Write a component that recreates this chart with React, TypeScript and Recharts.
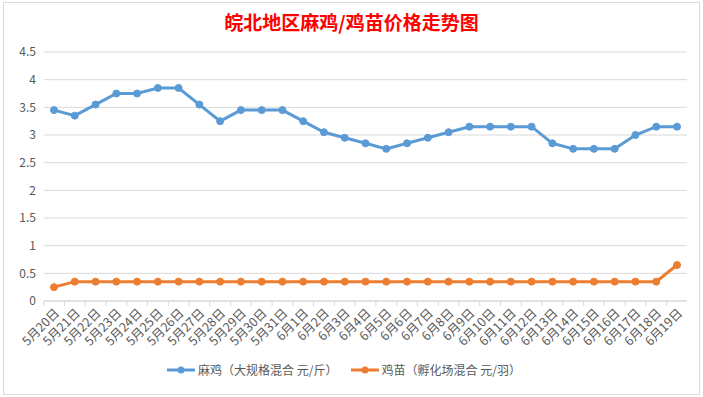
import React from 'react';
import { CartesianGrid, Legend, Line, LineChart, XAxis, YAxis } from 'recharts';

const dates = [
  '5月20日', '5月21日', '5月22日', '5月23日', '5月24日', '5月25日', '5月26日', '5月27日',
  '5月28日', '5月29日', '5月30日', '5月31日', '6月1日', '6月2日', '6月3日', '6月4日',
  '6月5日', '6月6日', '6月7日', '6月8日', '6月9日', '6月10日', '6月11日', '6月12日',
  '6月13日', '6月14日', '6月15日', '6月16日', '6月17日', '6月18日', '6月19日',
];

const majiPrices = [
  3.45, 3.35, 3.55, 3.75, 3.75, 3.85, 3.85, 3.55, 3.25, 3.45, 3.45, 3.45, 3.25, 3.05, 2.95, 2.85,
  2.75, 2.85, 2.95, 3.05, 3.15, 3.15, 3.15, 3.15, 2.85, 2.75, 2.75, 2.75, 3.0, 3.15, 3.15,
];

const chickPrices = [
  0.25, 0.35, 0.35, 0.35, 0.35, 0.35, 0.35, 0.35, 0.35, 0.35, 0.35, 0.35, 0.35, 0.35, 0.35, 0.35,
  0.35, 0.35, 0.35, 0.35, 0.35, 0.35, 0.35, 0.35, 0.35, 0.35, 0.35, 0.35, 0.35, 0.35, 0.65,
];

const yTicks = [0, 0.5, 1, 1.5, 2, 2.5, 3, 3.5, 4, 4.5];

const seriesNames = ['麻鸡（大规格混合 元/斤）', '鸡苗（孵化场混合 元/羽）'];

const BLUE = '#5b9bd5';
const ORANGE = '#ed7d31';
const TEXT = '#595959';
const GRID = '#d9d9d9';
const FONT = '"Noto Sans CJK SC", "Microsoft YaHei", sans-serif';

const data = dates.map((d, i) => ({
  date: d,
  maji: majiPrices[i],
  chick: chickPrices[i],
}));

// rotated date labels plus Excel-style tick marks between categories
const DateTick = (props: any) => {
  const { x, y, payload } = props;
  const half = 10.35;
  return (
    <g>
      <line x1={x - half} y1={y - 8} x2={x - half} y2={y - 3} stroke={GRID} />
      <text
        x={x + 6}
        y={y + 5}
        transform={`rotate(-45, ${x + 6}, ${y + 5})`}
        textAnchor="end"
        fill={TEXT}
        fontSize={12.5}
        fontFamily={FONT}
      >
        {payload.value}
      </text>
    </g>
  );
};

const LegendContent = () => (
  <div style={{ display: 'flex', justifyContent: 'center', gap: 12, fontSize: 12, color: TEXT, fontFamily: FONT }}>
    {[BLUE, ORANGE].map((c, i) => (
      <div key={i} style={{ display: 'flex', alignItems: 'center' }}>
        <svg width={30} height={10} style={{ marginRight: 2 }}>
          <line x1={1} y1={5} x2={29} y2={5} stroke={c} strokeWidth={3} />
          <circle cx={15} cy={5} r={3.5} fill={c} />
        </svg>
        <span>{seriesNames[i]}</span>
      </div>
    ))}
  </div>
);

export default function App() {
  return (
    <div style={{ position: 'fixed', left: 0, top: 0, width: 703, height: 397, background: '#fff' }}>
      <div
        style={{
          position: 'absolute',
          left: 3,
          top: 2,
          width: 695,
          height: 391,
          border: `1px solid ${GRID}`,
          background: '#fff',
        }}
      />
      <div
        style={{
          position: 'absolute',
          left: 0,
          top: 10,
          width: 703,
          textAlign: 'center',
          color: '#ff0000',
          fontSize: 19,
          fontWeight: 'bold',
          fontFamily: FONT,
          lineHeight: '24px',
        }}
      >
        皖北地区麻鸡/鸡苗价格走势图
      </div>
      <div style={{ position: 'absolute', left: 0, top: 0 }}>
        <LineChart width={703} height={397} data={data} margin={{ top: 52, right: 16, left: 0, bottom: 2 }}>
          <CartesianGrid vertical={false} stroke={GRID} />
          <XAxis
            dataKey="date"
            interval={0}
            height={60}
            padding={{ left: 10, right: 10 }}
            tick={<DateTick />}
            tickLine={false}
            axisLine={{ stroke: GRID }}
          />
          <YAxis
            width={44}
            domain={[0, 4.5]}
            ticks={yTicks}
            interval={0}
            axisLine={false}
            tickLine={false}
            tick={{ fill: TEXT, fontSize: 12, fontFamily: FONT }}
          />
          <Legend verticalAlign="bottom" height={34} content={<LegendContent />} />
          <Line
            dataKey="maji"
            name={seriesNames[0]}
            stroke={BLUE}
            strokeWidth={3}
            dot={{ r: 3.5, fill: BLUE, stroke: BLUE, strokeWidth: 1 }}
            isAnimationActive={false}
          />
          <Line
            dataKey="chick"
            name={seriesNames[1]}
            stroke={ORANGE}
            strokeWidth={3}
            dot={{ r: 3.5, fill: ORANGE, stroke: ORANGE, strokeWidth: 1 }}
            isAnimationActive={false}
          />
        </LineChart>
      </div>
    </div>
  );
}
